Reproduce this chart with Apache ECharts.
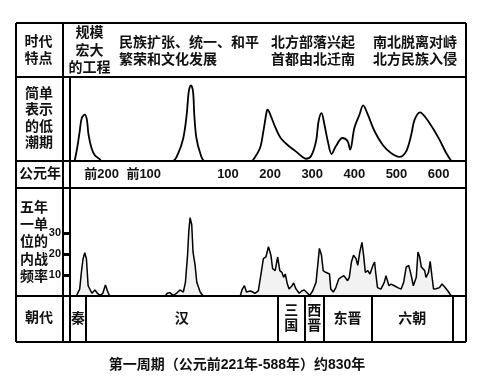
<!DOCTYPE html>
<html><head><meta charset="utf-8">
<script src="https://cdn.jsdelivr.net/npm/echarts@6.0.0/dist/echarts.min.js"></script>
<style>html,body{margin:0;padding:0;background:#fff}#c{width:488px;height:383px}</style>
</head><body><div id="c"></div>
<script>
// ---- data ----
// 简单表示的低潮期 (schematic curve, relative height 0-100)
const lowYears = [-264,-258,-252,-247,-240,-235,-231,-224,-216,-204,-201,-32,-18,-6,2,7,12,17,20,25,34,45,156,160,176,184,192,194,202,213,225,245,261,277,285,297,309,315,322,329,337,346,356,372,384,390,400,412,421,432,448,467,487,507,523,535,543,556,570,586,602,618,630];
const lowValues = [0,15.5,35.4,51.2,55.1,49.2,31.3,15.5,6.8,2,0,0,9.5,27.4,55.1,83,90.1,83,55.1,27.4,9.5,0,0,1.5,15.5,35.4,59.2,61.1,53.2,39.3,27.4,17.5,11.5,4.8,2.7,5.6,23.5,47.3,57.1,43.2,23.5,8.3,17.5,27.4,23.5,13.5,39.3,55.1,66.3,55.1,35.4,19.4,9.5,4.8,11.5,31.3,49.2,58,51.2,39.3,25.4,9.5,0];
// 五年一单位的内战频率
const warYears = [-260,-252,-248,-244,-240,-236,-232,-228,-223,-216,-210,-203,-197,-191,-186,-181,-49,-44,-38,-30,-22,-14,-6,-1,4,7,10,14,17,22,26,34,41,129,134,139,144,153,159,164,172,179,184,190,196,202,206,212,218,223,228,232,236,241,245,252,256,261,269,275,281,289,294,301,309,313,317,322,326,332,341,344,350,356,363,368,375,379,384,388,393,398,404,408,413,418,422,426,432,437,444,448,451,455,463,471,475,482,487,495,503,511,517,523,529,535,540,547,551,555,559,567,570,576,580,584,588,594,602,608,614,622,630];
const warValues = [0,3.3,11.3,17.8,20.6,17.8,4.9,4,1.3,2.9,1.3,0.3,1.3,5.3,2.4,0,0,1.3,1.6,0.3,1.3,2.9,1.9,6.5,19.4,30.8,37.3,34,21,14.6,6.5,1.9,0,0,3.3,4.9,1.9,2.4,1.9,1.3,2.4,11.3,17.8,18.6,23.5,19.4,13,12.1,18.6,12.1,11.3,8.9,10.5,5.7,3.3,4.9,6.2,3.5,1.3,2.4,2.9,1.3,0.3,2.4,6.5,14.6,22.7,19.4,12.1,11.3,10.5,3.3,1.9,4,8.1,8.9,9.7,9.4,7.3,8.9,16.2,19.4,17.8,14.6,21,25.6,19.4,11.3,12.1,10.5,14.6,16.2,10.5,4,3.3,6.5,9.7,4.9,5.7,4.9,4,3.3,6.5,13.8,14.6,9.7,4.9,8.9,21,18.6,13.8,12.1,8.9,11.3,16.5,9.7,3.3,3.5,4,5.7,4.4,2.4,0];
// 公元年 tick labels
const yearTicks = [-200,-100,100,200,300,400,500,600];
const yearTickLabels = ['前200','前100','100','200','300','400','500','600'];
// 内战频率 tick labels
const warTicks = [10,20,30];
// 朝代
const dynasties = ['秦','汉','三国','西晋','东晋','六朝'];
const dynastyStart = [-275,-237,218,282,327,441];
const dynastyEnd = [-237,218,282,327,441,634];
// header texts
const eraTraits = ['规模\n宏大\n的工程','民族扩张、统一、和平\n繁荣和文化发展','北方部落兴起\n首都由北迁南','南北脱离对峙\n北方民族入侵'];
const titleText = '第一周期（公元前221年-588年）约830年';

// ---- chart ----
const FF = '"Liberation Sans","Noto Sans CJK SC",sans-serif';
const font = (s) => 'bold ' + s + 'px ' + FF;
const XMIN = -275, XMAX = 665;
const L = 70, R = 22;
const chart = echarts.init(document.getElementById('c'), null, {renderer: 'canvas'});

function hline(y, x1, x2) { return {type:'line', shape:{x1:x1,y1:y,x2:x2,y2:y}, style:{stroke:'#000', lineWidth:2}, z:100}; }
function vline(x, y1, y2) { return {type:'line', shape:{x1:x,y1:y1,x2:x,y2:y2}, style:{stroke:'#000', lineWidth:2}, z:100}; }
function txt(t, x, y, size, align, lh) {
  return {type:'text', x:x, y:y, z:100, style:{text:t, font:font(size), fill:'#111', align:align||'center', verticalAlign:'middle', lineHeight:lh||16}};
}

const hidden = {show:false};
const option = {
  animation: false,
  backgroundColor: '#fff',
  grid: [
    {left:L, right:R, top:77, height:84},
    {left:L, right:R, top:188, height:108},
    {left:L, right:R, top:296, height:46}
  ],
  xAxis: [
    {gridIndex:0, type:'value', min:XMIN, max:XMAX, axisLine:{show:false, onZero:false}, axisTick:hidden, splitLine:hidden,
     axisLabel:{show:true, customValues:yearTicks, margin:7, color:'#111', fontWeight:'bold', fontSize:13, fontFamily:FF,
       formatter:(v)=>{const i=yearTicks.indexOf(v); return i>=0?yearTickLabels[i]:'';}}},
    {gridIndex:1, type:'value', min:XMIN, max:XMAX, axisLine:{show:false, onZero:false}, axisTick:hidden, splitLine:hidden, axisLabel:hidden},
    {gridIndex:2, type:'value', min:XMIN, max:XMAX, axisLine:{show:false, onZero:false}, axisTick:hidden, splitLine:hidden, axisLabel:hidden}
  ],
  yAxis: [
    {gridIndex:0, type:'value', min:0, max:100, show:false},
    {gridIndex:1, type:'value', min:0, max:51.5, position:'left', splitLine:hidden, axisLine:{show:false, onZero:false},
     axisTick:{show:true, customValues:warTicks, inside:false, length:7, lineStyle:{color:'#000', width:3}},
     axisLabel:{show:true, customValues:warTicks, margin:9, color:'#111', fontWeight:'bold', fontSize:11, fontFamily:FF}},
    {gridIndex:2, type:'value', min:0, max:1, show:false}
  ],
  series: [
    {type:'line', xAxisIndex:0, yAxisIndex:0, data:lowYears.map((y,i)=>[y,lowValues[i]]),
     smooth:0.35, symbol:'none', lineStyle:{color:'#000', width:1.8}, z:5},
    {type:'line', xAxisIndex:1, yAxisIndex:1, data:warYears.map((y,i)=>[y,warValues[i]]),
     smooth:false, symbol:'none', lineStyle:{color:'#000', width:1.5}, areaStyle:{color:'rgba(0,0,0,0.07)'}, z:5},
    {type:'custom', xAxisIndex:2, yAxisIndex:2, data:dynastyStart.map((s,i)=>[s,dynastyEnd[i]]),
     encode:{x:[0,1]},
     renderItem:(params, api)=>{
       const a = api.coord([api.value(0), 1]);
       const b = api.coord([api.value(1), 0]);
       const name = dynasties[params.dataIndex];
       const w = b[0]-a[0];
       const label = w < 35 ? name.split('').join('\n') : name;
       const xe = Math.round(b[0]);
       return {type:'group', children:[
         {type:'line', shape:{x1:xe,y1:a[1],x2:xe,y2:b[1]}, style:{stroke:'#000', lineWidth:2}},
         {type:'text', x:(a[0]+b[0])/2, y:(a[1]+b[1])/2, style:{text:label, font:font(14), fill:'#111', align:'center', verticalAlign:'middle', lineHeight:15}}
       ]};
     }}
  ],
  graphic: [
    hline(23,16,466), hline(77,16,466), hline(161,16,466), hline(188,16,466), hline(296,16,466), hline(342,16,466),
    vline(16,23,342), vline(63,23,342), vline(70,77,342), vline(466,23,342),
    txt('时代\n特点', 38.5, 50.5, 14, 'center', 17.6),
    txt(eraTraits[0], 89.5, 51, 14, 'center', 17.5),
    txt(eraTraits[1], 119, 51.3, 14, 'left', 17.3),
    txt(eraTraits[2], 271, 51.3, 14, 'left', 17.3),
    txt(eraTraits[3], 373, 51.3, 14, 'left', 17.3),
    txt('简单\n表示\n的低\n潮期', 39, 118.5, 14, 'center', 16.4),
    txt('公元年', 40, 174.5, 14, 'center'),
    txt('五年\n一单\n位的\n内战\n频率', 34, 242.6, 14, 'center', 17.25),
    txt('朝代', 39, 318.5, 14, 'center'),
    txt(titleText, 237, 365, 14, 'center')
  ]
};
chart.setOption(option);
</script>
</body></html>
